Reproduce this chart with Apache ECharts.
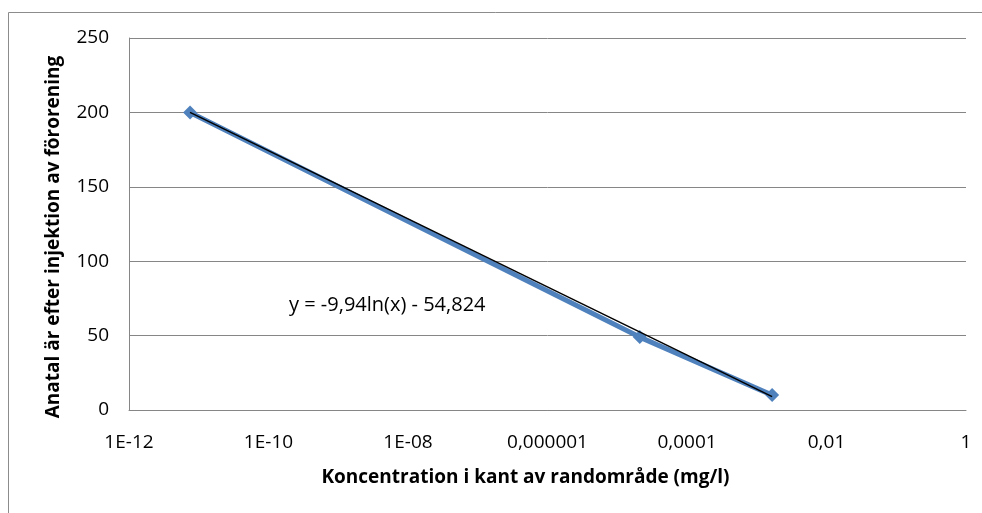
<!DOCTYPE html>
<html>
<head>
<meta charset="utf-8">
<script src="https://cdn.jsdelivr.net/npm/echarts@6/dist/echarts.min.js"></script>
<style>
  html, body { margin: 0; padding: 0; background: #fff; }
  #chart { width: 982px; height: 513px; }
</style>
</head>
<body>
<div id="chart"></div>
<script>
// mätpunkter (koncentration mg/l, antal år)
var koncentration = [7.5e-12, 2.1e-5, 1.66e-3];
var antalAr = [200, 49, 10];

// trendlinjens ändpunkter
var trendX = [7.5e-12, 1.66e-3];
var trendY = [200, 9];

var xTickLabels = ['1E-12', '1E-10', '1E-08', '0,000001', '0,0001', '0,01', '1'];
var trendText = 'y = -9,94ln(x) - 54,824';

var myChart = echarts.init(document.getElementById('chart'));

var font = '"Open Sans", Lato, sans-serif';

option = {
    animation: false,
    backgroundColor: '#fff',
    grid: {
        left: 129,
        top: 38,
        right: 16,
        bottom: 103
    },
    graphic: [
        {
            type: 'rect',
            shape: { x: 8.5, y: 12.5, width: 1000, height: 520 },
            style: { fill: 'none', stroke: '#8c8c8c', lineWidth: 1 },
            silent: true
        },
        {
            type: 'text',
            left: 289,
            top: 295,
            style: { text: trendText, fill: '#000', font: '20px ' + font }
        }
    ],
    xAxis: {
        type: 'log',
        logBase: 10,
        min: 1e-12,
        max: 1,
        interval: 2,
        name: 'Koncentration i kant av randområde (mg/l)',
        nameLocation: 'middle',
        nameGap: 58,
        nameTextStyle: {
            fontFamily: font, fontWeight: 'bold', fontSize: 19, color: '#000',
            padding: [0, 44, 0, 0]
        },
        axisLine: { lineStyle: { color: '#868686', width: 1 } },
        axisTick: { show: false },
        splitLine: { show: false },
        axisLabel: {
            margin: 23,
            fontFamily: font,
            fontSize: 19,
            color: '#000',
            formatter: function (v) {
                var e = Math.round(Math.log10(v));
                return xTickLabels[(e + 12) / 2];
            }
        }
    },
    yAxis: {
        type: 'value',
        min: 0,
        max: 250,
        interval: 50,
        name: 'Anatal är efter injektion av förorening',
        nameLocation: 'middle',
        nameGap: 66,
        nameTextStyle: {
            fontFamily: font, fontWeight: 'bold', fontSize: 19, color: '#000',
            padding: [0, 26, 0, 0]
        },
        axisLine: { show: true, lineStyle: { color: '#868686', width: 1 } },
        axisTick: { show: false },
        splitLine: { lineStyle: { color: '#868686', width: 1 } },
        axisLabel: { margin: 20, fontFamily: font, fontSize: 19, color: '#000' }
    },
    series: [
        {
            name: 'data',
            type: 'line',
            data: koncentration.map(function (x, i) { return [x, antalAr[i]]; }),
            symbol: 'diamond',
            symbolSize: 14,
            showAllSymbol: true,
            lineStyle: { color: '#4f81bd', width: 5 },
            itemStyle: { color: '#4f81bd' },
            z: 2
        },
        {
            name: 'trend',
            type: 'line',
            data: trendX.map(function (x, i) { return [x, trendY[i]]; }),
            symbol: 'none',
            lineStyle: { color: '#000', width: 1.5 },
            z: 3
        }
    ]
};

myChart.setOption(option);
</script>
</body>
</html>
